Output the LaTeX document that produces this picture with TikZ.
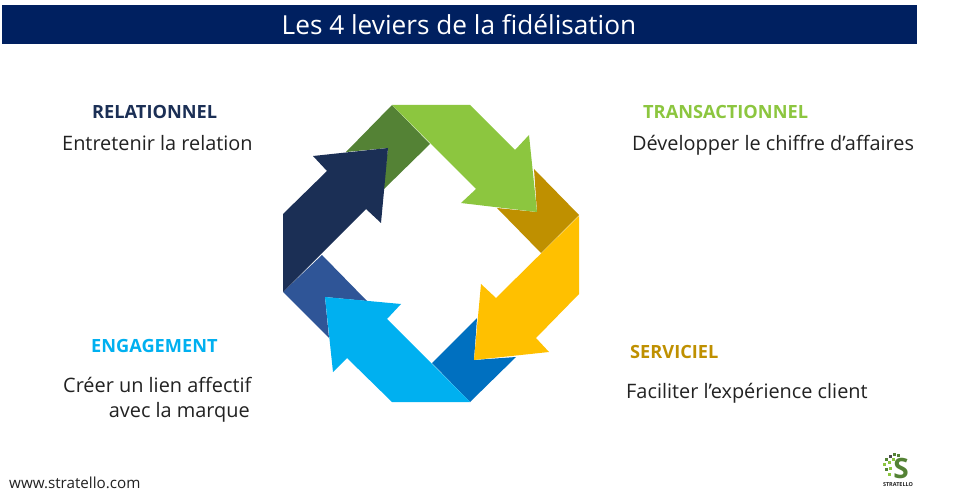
\documentclass[tikz,border=0pt]{standalone}
\usepackage{fontspec}
\setmainfont{Open Sans}
\definecolor{navyhead}{HTML}{002060}
\definecolor{cDkGreen}{HTML}{548235}
\definecolor{cGreen}{HTML}{8CC63F}
\definecolor{cDkGold}{HTML}{BF9000}
\definecolor{cYellow}{HTML}{FFC000}
\definecolor{cDkBlue}{HTML}{0070C0}
\definecolor{cCyan}{HTML}{00B0F0}
\definecolor{cMidBlue}{HTML}{2F5597}
\definecolor{cNavy}{HTML}{1B2F55}
\definecolor{cText}{HTML}{222222}
\tikzset{
  headlbl/.style={inner sep=0pt,font=\fontsize{18.2}{20}\selectfont\bfseries,anchor=base west},
  bodylbl/.style={inner sep=0pt,font=\fontsize{19.9}{22}\selectfont,text=cText,anchor=base west}
}
\begin{document}
\begin{tikzpicture}[x=1pt,y=-1pt]
\useasboundingbox (0,0) rectangle (960,502);
\fill[white] (0,0) rectangle (960,502);
\node[fill=navyhead,minimum width=915pt,minimum height=39.5pt,inner sep=0pt,anchor=north west] (head) at (1.5,4.5) {};
\node[text=white,inner sep=0pt,font=\fontsize{26.2}{30}\selectfont] (title) at (459,25) {Les 4 leviers de la fidélisation};
% dark bands
\fill[cDkGreen] (392,105) -- (430,144) -- (383,190) -- (388,148) -- (346,152) -- cycle;
\fill[cDkGold] (534,169) -- (579,215) -- (541,253) -- (497,208) -- (537,212) -- cycle;
\fill[cDkBlue] (477,318) -- (432,363) -- (470,402) -- (516,357) -- (474,360) -- cycle;
\fill[cMidBlue] (322,255) -- (283,292) -- (329,338) -- (325,297) -- (367,301) -- cycle;
% arrows
\fill[cGreen] (392,105) -- (470,105) -- (515,150) -- (529,135) -- (537,212) -- (461,203) -- (476,189) -- cycle;
\fill[cYellow] (579,216) -- (579,294) -- (536,338) -- (549,352) -- (474,360) -- (481,284) -- (496,298) -- cycle;
\fill[cCyan] (470,402) -- (392,402) -- (347,358) -- (333,372) -- (325,297) -- (401,304) -- (387,319) -- cycle;
\fill[cNavy] (283,292) -- (283,214) -- (327,171) -- (313,156) -- (388,148) -- (381,223) -- (366,209) -- cycle;
% labels
\node[headlbl,text=cNavy] (h1) at (92,119) {RELATIONNEL};
\node[bodylbl] (b1) at (62,150.5) {Entretenir la relation};
\node[headlbl,text=cGreen] (h2) at (643,119) {TRANSACTIONNEL};
\node[bodylbl] (b2) at (632,150.5) {Développer le chiffre d’affaires};
\node[headlbl,text=cDkGold] (h3) at (630,358) {SERVICIEL};
\node[bodylbl] (b3) at (626,398) {Faciliter l’expérience client};
\node[headlbl,text=cCyan] (h4) at (91,352) {ENGAGEMENT};
\node[bodylbl] (b4) at (63,392) {Créer un lien affectif};
\node[bodylbl,anchor=base east] (b5) at (250,417) {avec la marque};
\node[inner sep=0pt,anchor=base west,text=cText,font=\fontsize{15.2}{17}\selectfont] (web) at (9,488) {www.stratello.com};
% logo
\foreach \x/\y/\c in {885/458/cDkGreen,889/455/black!70,893/453/cDkGreen,883/463/cGreen,888/461/cGreen,885/468/cDkGreen,889/467/cGreen,888/473/cGreen,892/458/cGreen,897/454/cDkGreen}
  \fill[\c] (\x,\y) rectangle ++(3,3);
\node[inner sep=0pt,text=cDkGreen,font=\fontsize{28}{28}\selectfont\bfseries] (logoS) at (901,468) {S};
\node[inner sep=0pt,text=cText,font=\fontsize{5.5}{6}\selectfont\bfseries] (logoT) at (898,485) {STRATELLO};
\end{tikzpicture}
\end{document}
